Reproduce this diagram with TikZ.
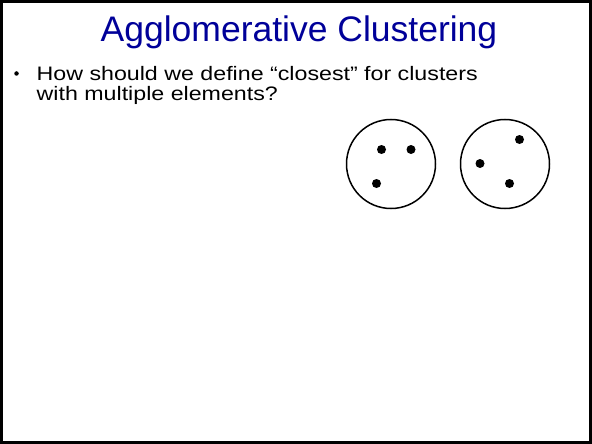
\documentclass[tikz,border=0pt]{standalone}
\usepackage{fontspec}
\setmainfont{Liberation Sans}
\newfontfamily\widefont[FakeStretch=1.19]{Liberation Sans}
\usetikzlibrary{shapes,arrows}
\definecolor{titleblue}{RGB}{0,0,153}
\tikzstyle{heading} = [anchor=base, text=titleblue,
	font=\fontsize{35.5}{40}\selectfont, inner sep=0pt]
\tikzstyle{bodytext} = [anchor=base west,
	font=\widefont\fontsize{19.5}{20}\selectfont, inner sep=0pt]
\tikzstyle{cluster} = [circle, draw, line width=1.5pt,
	minimum size=89pt, inner sep=0pt]
\tikzstyle{point} = [circle, fill=black, minimum size=9pt, inner sep=0pt]

\begin{document}
\begin{tikzpicture}[x=1pt, y=-1pt]

	% Slide frame
	\useasboundingbox (0,0) rectangle (592,444);
	\draw [line width=3pt] (1.5,1.5) rectangle (590.5,442.5);

	% Place text
	\node [heading] (title) at (299,41.5) {Agglomerative Clustering};
	\node [point, minimum size=4.5pt] (bullet) at (16.5,73.5) {};
	\node [bodytext] (question) at (36.5,80.7)
		{How should we define “closest” for clusters};
	\node [bodytext] (questionend) at (36.5,100) {with multiple elements?};

	% Place clusters
	\node [cluster] (left) at (391,164) {};
	\node [cluster] (right) at (505,164) {};

	% Place points
	\node [point] (a1) at (381.5,149.5) {};
	\node [point] (a2) at (411,149.5) {};
	\node [point] (a3) at (376.5,183.5) {};
	\node [point] (b1) at (519.5,139.5) {};
	\node [point] (b2) at (480,163.5) {};
	\node [point] (b3) at (509.5,183.5) {};
\end{tikzpicture}
\end{document}
